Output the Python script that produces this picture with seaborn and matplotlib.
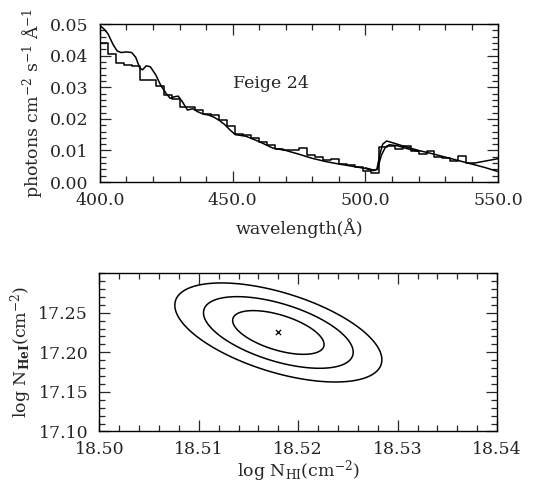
import numpy as np
import pandas as pd
import seaborn as sns
import matplotlib
matplotlib.use('Agg')
import matplotlib.pyplot as plt
from matplotlib.ticker import MultipleLocator, FixedLocator

# observed spectrum, binned (bin start wavelength, flux)
bin_start = [400, 403, 406, 409, 412, 415, 418, 421, 424, 427, 430, 433, 436, 439,
             442, 445, 448, 451, 454, 457, 460, 463, 466, 469, 472, 475, 478, 481,
             484, 487, 490, 493, 496, 499, 502, 505, 508, 511, 514, 517, 520, 523,
             526, 529, 532, 535, 538, 541]
bin_flux = [0.0440, 0.0406, 0.0378, 0.0372, 0.0368, 0.0323, 0.0323, 0.0305, 0.0275,
            0.0262, 0.0238, 0.0238, 0.0228, 0.0215, 0.0212, 0.0195, 0.0178, 0.0152,
            0.0148, 0.0140, 0.0128, 0.0118, 0.0105, 0.0103, 0.0100, 0.0108, 0.0085,
            0.0080, 0.0070, 0.0072, 0.0058, 0.0055, 0.0048, 0.0036, 0.0028, 0.0110,
            0.0115, 0.0105, 0.0113, 0.0098, 0.0090, 0.0098, 0.0080, 0.0077, 0.0068,
            0.0082, 0.0060, 0.0060]
tail_wave = [541, 550]
tail_flux = [0.0060, 0.0074]

# model spectrum
model_wave = [400, 401.5, 403, 405, 406.5, 408, 410, 412, 413.5, 415, 416, 417.5, 419,
              421, 423, 425, 426.5, 428, 429.5, 431, 433, 435, 437, 439, 441, 443, 445,
              447, 449, 451, 455, 460, 465, 470, 475, 480, 485, 490, 495, 500, 503,
              504.3, 505.5, 506.5, 508, 510, 515, 520, 525, 530, 535, 540, 545, 550]
model_flux = [0.0495, 0.0485, 0.0470, 0.0435, 0.0415, 0.0410, 0.0412, 0.0410, 0.0395,
              0.0362, 0.0355, 0.0368, 0.0365, 0.0340, 0.0305, 0.0280, 0.0265, 0.0270,
              0.0272, 0.0255, 0.0228, 0.0232, 0.0222, 0.0215, 0.0212, 0.0205, 0.0195,
              0.0182, 0.0165, 0.0150, 0.0145, 0.0128, 0.0108, 0.0100, 0.0088, 0.0075,
              0.0065, 0.0057, 0.0050, 0.0043, 0.0036, 0.0040, 0.0090, 0.0120, 0.0130,
              0.0125, 0.0112, 0.0100, 0.0090, 0.0079, 0.0068, 0.0057, 0.0046, 0.0033]

# second model near the He I edge
edge_wave = [500, 503, 504.5, 506, 507.5, 509, 512, 516, 520]
edge_flux = [0.0045, 0.0038, 0.0040, 0.0085, 0.0110, 0.0118, 0.0115, 0.0105, 0.0097]

# best fit and confidence contours (delta chi^2 levels)
best_nhi, best_nhe = 18.518, 17.225
sig_nhi, sig_nhe, rho = 0.00303, 0.0182, -0.55
chi2_levels = [2.30, 6.17, 11.8]

sns.set_style("ticks")
plt.rcParams['font.family'] = ['DejaVu Serif']
plt.rcParams['mathtext.fontset'] = 'dejavuserif'
plt.rcParams['font.size'] = 12.5

fig = plt.figure(figsize=(5.34, 4.92), dpi=100)
ax1 = fig.add_axes([0.187, 0.630, 0.746, 0.321])
ax2 = fig.add_axes([0.186, 0.123, 0.745, 0.322])

lw = 1.1
step_df = pd.DataFrame({'wave': bin_start, 'flux': bin_flux})
sns.lineplot(data=step_df, x='wave', y='flux', ax=ax1, color='black', lw=lw,
             drawstyle='steps-post', sort=False, estimator=None)
sns.lineplot(x=tail_wave, y=tail_flux, ax=ax1, color='black', lw=lw, estimator=None)
sns.lineplot(x=model_wave, y=model_flux, ax=ax1, color='black', lw=lw, estimator=None)
sns.lineplot(x=edge_wave, y=edge_flux, ax=ax1, color='black', lw=lw, estimator=None)

ax1.set_xlim(400, 550)
ax1.set_ylim(0, 0.05)
ax1.xaxis.set_major_locator(MultipleLocator(50))
ax1.xaxis.set_minor_locator(MultipleLocator(10))
ax1.yaxis.set_major_locator(MultipleLocator(0.01))
ax1.yaxis.set_minor_locator(MultipleLocator(0.002))
ax1.xaxis.set_major_formatter(matplotlib.ticker.FormatStrFormatter('%.1f'))
ax1.yaxis.set_major_formatter(matplotlib.ticker.FormatStrFormatter('%.2f'))
ax1.set_xlabel('wavelength(Å)', labelpad=7)
ax1.set_ylabel(r'photons cm$^{-2}$ s$^{-1}$ Å$^{-1}$', labelpad=4)
ax1.text(450, 0.0313, 'Feige 24', va='center', ha='left', fontsize=12.5)

# contour plot
gx = np.linspace(18.50, 18.54, 400)
gy = np.linspace(17.10, 17.30, 400)
X, Y = np.meshgrid(gx, gy)
u = (X - best_nhi) / sig_nhi
v = (Y - best_nhe) / sig_nhe
chi2 = (u**2 - 2 * rho * u * v + v**2) / (1 - rho**2)
ax2.contour(X, Y, chi2, levels=chi2_levels, colors='black', linewidths=lw)
sns.scatterplot(x=[best_nhi], y=[best_nhe], ax=ax2, marker='x', color='black',
                s=14, linewidth=0.9)

ax2.set_xlim(18.50, 18.54)
ax2.set_ylim(17.10, 17.30)
ax2.xaxis.set_major_locator(MultipleLocator(0.01))
ax2.xaxis.set_minor_locator(MultipleLocator(0.002))
ax2.yaxis.set_major_locator(FixedLocator([17.10, 17.15, 17.20, 17.25]))
ax2.yaxis.set_minor_locator(MultipleLocator(0.01))
ax2.xaxis.set_major_formatter(matplotlib.ticker.FormatStrFormatter('%.2f'))
ax2.yaxis.set_major_formatter(matplotlib.ticker.FormatStrFormatter('%.2f'))
ax2.set_xlabel(r'log N$_{\rm HI}$(cm$^{-2}$)', labelpad=0)
ax2.set_ylabel(r'log N$_{\mathbf{HeI}}$(cm$^{-2}$)', labelpad=3)

for ax in (ax1, ax2):
    ax.tick_params(which='both', direction='in', top=True, right=True,
                   width=0.9, labelsize=12.5)
    ax.tick_params(axis='x', which='major', pad=7)
    ax.tick_params(axis='y', which='major', pad=8)
    ax.tick_params(which='major', length=8)
    ax.tick_params(which='minor', length=4)
    for sp in ax.spines.values():
        sp.set_linewidth(1.0)
        sp.set_color('black')

fig.savefig('out.png', dpi=100)
